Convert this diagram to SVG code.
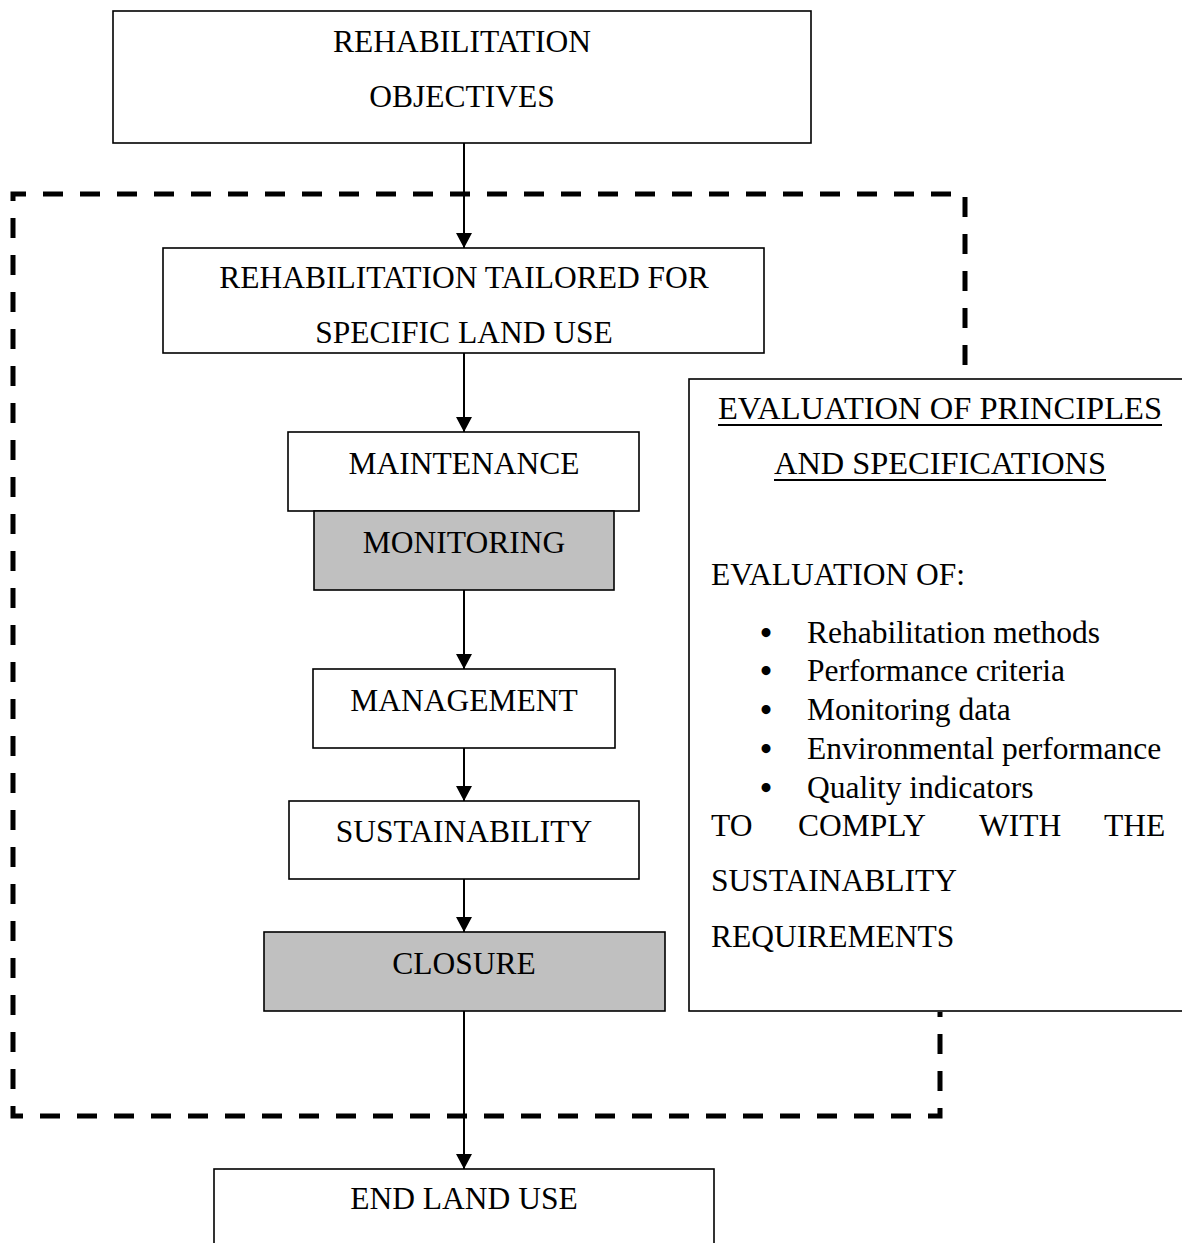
<svg xmlns="http://www.w3.org/2000/svg" width="1182" height="1243" viewBox="0 0 1182 1243">
  <style>
    text { font-family: "Liberation Serif", "Times New Roman", serif; font-size: 31.5px; fill: #000; }
    .c { text-anchor: middle; }
    .b { text-anchor: middle; font-size: 33px; font-weight: bold; }
    .box { fill: #fff; stroke: #000; stroke-width: 1.6; }
    .grey { fill: #c0c0c0; stroke: #000; stroke-width: 1.6; }
    .conn { stroke: #000; stroke-width: 2; fill: none; }
    .dash { stroke: #000; stroke-width: 5; fill: none; stroke-dasharray: 20 17; }
    .ul { stroke: #000; stroke-width: 2; }
  </style>
  <defs>
    <marker id="arr" markerUnits="userSpaceOnUse" markerWidth="16" markerHeight="17" refX="15" refY="8" orient="auto">
      <path d="M0,0 L15,8 L0,16 z" fill="#000"/>
    </marker>
  </defs>
  <rect width="1182" height="1243" fill="#fff"/>

  <g id="boundary">
    <path class="dash" d="M965,365 V194 H13 V1116 H940 V1012"/>
  </g>

  <g id="connectors">
    <line class="conn" x1="464" y1="143" x2="464" y2="248" marker-end="url(#arr)"/>
    <line class="conn" x1="464" y1="353" x2="464" y2="432" marker-end="url(#arr)"/>
    <line class="conn" x1="464" y1="590" x2="464" y2="669" marker-end="url(#arr)"/>
    <line class="conn" x1="464" y1="748" x2="464" y2="801" marker-end="url(#arr)"/>
    <line class="conn" x1="464" y1="879" x2="464" y2="932" marker-end="url(#arr)"/>
    <line class="conn" x1="464" y1="1011" x2="464" y2="1169" marker-end="url(#arr)"/>
  </g>

  <g id="objectives">
    <rect class="box" x="113" y="11" width="698" height="132"/>
    <text class="c" x="462" y="52">REHABILITATION</text>
    <text class="c" x="462" y="107">OBJECTIVES</text>
  </g>

  <g id="tailored">
    <rect class="box" x="163" y="248" width="601" height="105"/>
    <text class="c" x="464" y="288">REHABILITATION TAILORED FOR</text>
    <text class="c" x="464" y="343">SPECIFIC LAND USE</text>
  </g>

  <g id="maintenance">
    <rect class="box" x="288" y="432" width="351" height="79"/>
    <text class="c" x="464" y="474">MAINTENANCE</text>
  </g>

  <g id="monitoring">
    <rect class="grey" x="314" y="511" width="300" height="79"/>
    <text class="c" x="464" y="553">MONITORING</text>
  </g>

  <g id="management">
    <rect class="box" x="313" y="669" width="302" height="79"/>
    <text class="c" x="464" y="711">MANAGEMENT</text>
  </g>

  <g id="sustainability">
    <rect class="box" x="289" y="801" width="350" height="78"/>
    <text class="c" x="464" y="842">SUSTAINABILITY</text>
  </g>

  <g id="closure">
    <rect class="grey" x="264" y="932" width="401" height="79"/>
    <text class="c" x="464" y="974">CLOSURE</text>
  </g>

  <g id="end-land-use">
    <rect class="box" x="214" y="1169" width="500" height="90"/>
    <text class="c" x="464" y="1209">END LAND USE</text>
  </g>

  <g id="evaluation">
    <rect class="box" x="689" y="379" width="500" height="632"/>
    <text x="718" y="419" textLength="444" lengthAdjust="spacingAndGlyphs">EVALUATION OF PRINCIPLES</text>
    <line class="ul" x1="718" y1="425" x2="1162" y2="425"/>
    <text x="774" y="474" textLength="332" lengthAdjust="spacingAndGlyphs">AND SPECIFICATIONS</text>
    <line class="ul" x1="774" y1="480" x2="1106" y2="480"/>
    <text x="711" y="585">EVALUATION OF:</text>
    <text class="b" x="766" y="644">•</text>
    <text x="807" y="643">Rehabilitation methods</text>
    <text class="b" x="766" y="682">•</text>
    <text x="807" y="681">Performance criteria</text>
    <text class="b" x="766" y="721">•</text>
    <text x="807" y="720">Monitoring data</text>
    <text class="b" x="766" y="760">•</text>
    <text x="807" y="759">Environmental performance</text>
    <text class="b" x="766" y="799">•</text>
    <text x="807" y="798">Quality indicators</text>
    <text y="836"><tspan x="711">TO</tspan><tspan x="798">COMPLY</tspan><tspan x="979">WITH</tspan><tspan x="1104">THE</tspan></text>
    <text x="711" y="891">SUSTAINABLITY</text>
    <text x="711" y="947">REQUIREMENTS</text>
  </g>
</svg>
